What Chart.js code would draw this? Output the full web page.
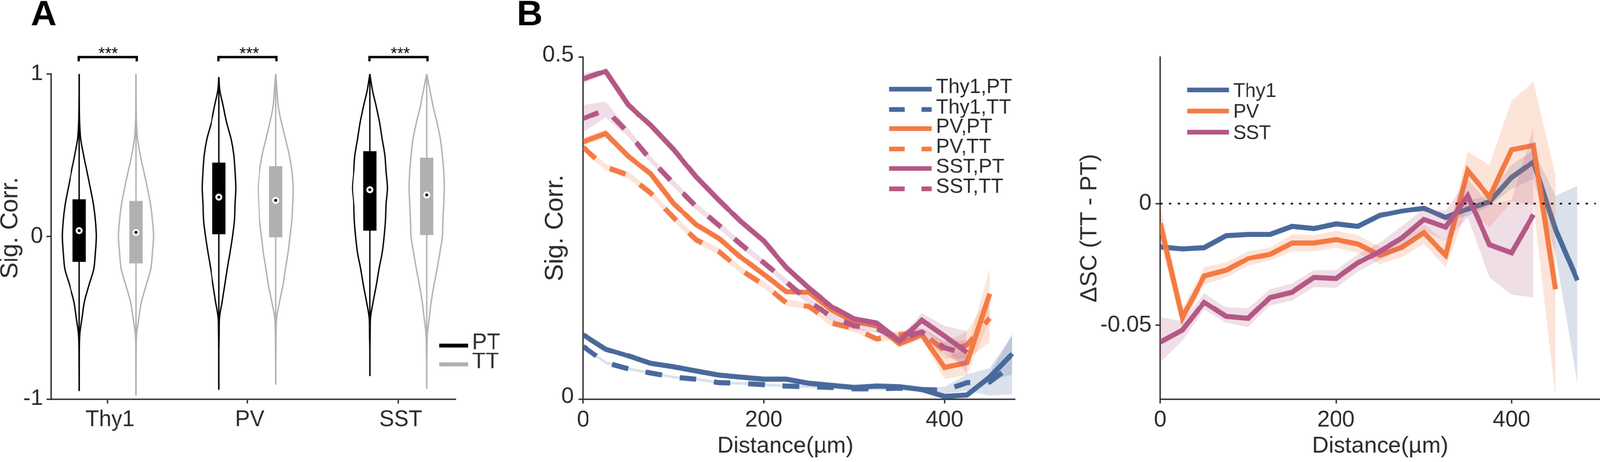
<!DOCTYPE html>
<html>
<head>
<meta charset="utf-8">
<style>
  html, body { margin: 0; padding: 0; background: #fff; overflow: hidden; }
  #page { position: relative; width: 4130px; height: 1182px; overflow: hidden; background: #fff; transform-origin: 0 0; }
  canvas { position: absolute; top: 0; }
</style>
<script src="https://cdn.jsdelivr.net/npm/chart.js@4"></script>
</head>
<body>
<div id="page">
  <canvas id="graphA" width="1290" height="1182" style="left:0"></canvas>
  <canvas id="graphB" width="1450" height="1182" style="left:1290px"></canvas>
  <canvas id="graphC" width="1390" height="1182" style="left:2740px"></canvas>
</div>
<script>
// panel A, violins
const groupNames = ['Thy1', 'PV', 'SST']
const groupPos = [1.45, 5.055, 8.95]
const violinLevels = [1, .9, .8, .7, .6, .5, .4, .3, .2, .1, 0, -.1, -.2, -.3, -.4, -.5, -.6, -.7, -.8, -.9, -1]

const thy1PtWidth = [0, 0, .004, .012, .04, .115, .2, .285, .365, .415, .44, .415, .375, .25, .135, .075, .017, .004, .002, 0, 0]
const thy1TtWidth = [0, 0, .004, .012, .04, .11, .2, .29, .37, .42, .45, .42, .38, .26, .14, .075, .017, .004, .002, 0, 0]
const pvPtWidth = [0, .025, .115, .2, .315, .385, .415, .435, .415, .4, .35, .285, .215, .15, .085, .017, .008, 0, 0, 0, 0]
const pvTtWidth = [0, .033, .067, .15, .25, .35, .415, .45, .435, .415, .365, .315, .25, .185, .1, .025, .008, .004, 0, 0, 0]
const sstPtWidth = [0, .067, .165, .25, .315, .385, .415, .45, .415, .4, .365, .315, .235, .165, .085, .017, .008, 0, 0, 0, 0]
const sstTtWidth = [0, .083, .165, .265, .35, .4, .435, .45, .435, .415, .4, .335, .265, .185, .115, .067, .017, .008, 0, 0, 0]

const whiskerTop = [1, 1, .98, 1, 1, 1]
const whiskerBottom = [-.95, -.977, -.942, -.912, -.859, -.937]
const boxTop = [.23, .22, .456, .432, .526, .486]
const boxBottom = [-.157, -.166, .014, -.005, .036, .009]
const medians = [.036, .025, .243, .223, .288, .256]

const legendA = ['PT', 'TT']
const bracketY = [1.079, 1.105, 1.105, 1.079]

// panel B and C, distance bins
const distance = [0, 25, 50, 75, 100, 125, 150, 175, 200, 225, 250, 275, 300, 325, 350, 375, 400, 425, 450, 475]

const thy1Pt = [.094, .073, .063, .052, .047, .041, .035, .032, .029, .029, .023, .020, .017, .019, .018, .014, .004, .006, .032, .066]
const thy1PtErr = [.002, .001, .001, .001, .001, .001, .001, .001, .001, .001, .001, .001, .001, .001, .001, .002, .002, .002, .006, .03]
const thy1Tt = [.077, .053, .044, .038, .032, .029, .024, .023, .021, .019, .018, .017, .015, .015, .016, .014, .013, .024, .025, .05]
const thy1TtErr = [.002, .002, .002, .002, .002, .002, .002, .002, .002, .002, .002, .002, .002, .002, .002, .002, .005, .012, .02, .043]
const pvPt = [.376, .388, .355, .329, .286, .255, .235, .207, .182, .157, .156, .130, .113, .107, .081, .094, .046, .053, .154]
const pvPtErr = [.006, .006, .003, .002, .002, .002, .002, .002, .002, .002, .002, .002, .002, .003, .006, .006, .017, .018, .038]
const pvTt = [.368, .339, .327, .301, .265, .233, .216, .188, .167, .141, .135, .111, .103, .088, .094, .098, .071, .079, .118]
const pvTtErr = [.005, .005, .005, .005, .005, .005, .005, .005, .005, .005, .005, .005, .005, .005, .006, .006, .012, .02, .035]
const sstPt = [.468, .479, .430, .400, .365, .325, .291, .259, .231, .192, .162, .135, .117, .111, .085, .115, .092, .068]
const sstPtErr = [.008, .003, .002, .002, .002, .002, .002, .002, .002, .002, .002, .002, .003, .004, .006, .01, .015, .031]
const sstTt = [.410, .423, .389, .350, .315, .282, .254, .226, .199, .171, .143, .120, .107, .103, .088, .098, .075, .066]
const sstTtErr = [.02, .012, .006, .005, .005, .005, .005, .005, .005, .005, .005, .005, .006, .006, .006, .006, .01, .02]

const thy1Diff = [-.0178, -.0186, -.0181, -.0132, -.0127, -.0127, -.0094, -.0103, -.0084, -.0094, -.0049, -.0031, -.0019, -.0058, -.0022, .0008, .0107, .0171, -.0106, -.0316]
const thy1Hi = [-.0168, -.0176, -.0171, -.0122, -.0117, -.0117, -.0084, -.0093, -.0074, -.0084, -.0039, -.0021, -.0009, -.0048, .001, .0035, .016, .022, .0032, .0073]
const thy1Lo = [-.0188, -.0196, -.0191, -.0142, -.0137, -.0137, -.0104, -.0113, -.0094, -.0104, -.0059, -.0041, -.0029, -.0068, -.0052, -.001, .006, .0101, -.0206, -.0743]
const pvDiff = [-.0082, -.0469, -.0298, -.0274, -.0226, -.0208, -.0162, -.0162, -.0148, -.0166, -.0212, -.018, -.012, -.0212, .0135, .0026, .0221, .0239, -.0352]
const pvHi = [-.0004, -.043, -.0262, -.0242, -.0196, -.0181, -.0127, -.013, -.0112, -.013, -.0178, -.0148, -.0088, -.0154, .0213, .0159, .0423, .0501, .0117]
const pvLo = [-.016, -.0502, -.0334, -.0304, -.0256, -.0234, -.0196, -.0196, -.0181, -.0202, -.025, -.022, -.0166, -.0262, -.0016, -.01, .0008, -.0004, -.0794]
const sstDiff = [-.0569, -.052, -.0406, -.0464, -.0472, -.0386, -.0364, -.0304, -.0308, -.0244, -.0196, -.0142, -.0066, -.0097, .0032, -.0169, -.0202, -.0046]
const sstHi = [-.0466, -.0484, -.0368, -.0427, -.043, -.0352, -.0328, -.0274, -.0274, -.0208, -.016, -.0094, -.0022, -.0028, .0099, -.0004, .0014, .0312]
const sstLo = [-.0653, -.0563, -.0436, -.049, -.0508, -.0418, -.0398, -.0343, -.0346, -.028, -.0232, -.0184, -.0112, -.0154, -.0058, -.0304, -.0374, -.0385]

const zeroLineX = [0, 496]
const zeroLineY = [0, 0]
const distTicks = [0, 200, 400]

const blue = '#48699b'
const orange = '#f47a43'
const plum = '#b45885'
const bandBlue = 'rgba(72, 105, 155, 0.2)'
const bandOrange = 'rgba(244, 122, 67, 0.2)'
const bandPlum = 'rgba(180, 88, 133, 0.2)'
const ink = '#2b2b2b'
const grayInk = '#b0b0b0'
const sans = '"Liberation Sans", Arial, sans-serif'

// the window can be narrower than 4130, fit the whole page into it
const fitScale = Math.min(1, window.innerWidth / 4130)
document.getElementById('page').style.transform = 'scale(' + fitScale + ')'

Chart.defaults.font.family = sans
Chart.defaults.color = ink
Chart.defaults.animation = false

const pts = (xs, ys) => ys.map((y, i) => ({ x: xs[i], y: y }))

function lineSet(ys, color, width, dash) {
  return {
    data: pts(distance, ys),
    borderColor: color,
    borderWidth: width,
    borderDash: dash || [],
    pointRadius: 0,
    fill: false,
  }
}

// two datasets, the first fills down to the second
function bandSet(hi, lo, color) {
  return [
    { data: pts(distance, hi), borderWidth: 0, pointRadius: 0, backgroundColor: color, fill: '+1' },
    { data: pts(distance, lo), borderWidth: 0, pointRadius: 0, fill: false },
  ]
}

function errBand(ys, err, color) {
  return bandSet(ys.map((y, i) => y + err[i]), ys.map((y, i) => y - err[i]), color)
}

// draws free text, legends and stars on top of the chart
const annotPlugin = {
  id: 'annot',
  afterDraw(chart, args, opts) {
    const ctx = chart.ctx
    ctx.save()
    ;(opts.lines || []).forEach(l => {
      ctx.beginPath()
      ctx.strokeStyle = l.color
      ctx.lineWidth = l.width
      ctx.setLineDash(l.dash || [])
      ctx.moveTo(l.x0, l.y)
      ctx.lineTo(l.x1, l.y)
      ctx.stroke()
    })
    ctx.setLineDash([])
    ;(opts.texts || []).forEach(t => {
      ctx.save()
      ctx.translate(t.x, t.y)
      if (t.rot) ctx.rotate(t.rot)
      ctx.font = t.font
      ctx.fillStyle = t.color || ink
      ctx.textAlign = t.align || 'left'
      ctx.textBaseline = 'middle'
      ctx.fillText(t.text, 0, 0)
      ctx.restore()
    })
    ctx.restore()
  }
}

function axisOpts(extra) {
  return Object.assign({
    border: { display: true, color: ink, width: 3.5 },
    grid: { drawOnChartArea: false, drawTicks: true, color: ink, lineWidth: 3.5, tickLength: 12 },
  }, extra)
}

function makeChart(id, plot, datasets, xAxis, yAxis, annot) {
  const el = document.getElementById(id)
  const w = el.width
  const h = el.height
  xAxis.afterFit = s => { s.height = h - plot.bottom }
  yAxis.afterFit = s => { s.width = plot.left }
  return new Chart(el, {
    type: 'line',
    data: { datasets: datasets },
    options: {
      responsive: false,
      devicePixelRatio: fitScale,
      layout: { autoPadding: false, padding: { top: plot.top, right: w - plot.right, left: 0, bottom: 0 } },
      elements: { line: { tension: 0 } },
      plugins: { legend: { display: false }, tooltip: { enabled: false }, annot: annot },
      scales: { x: xAxis, y: yAxis },
    },
    plugins: [annotPlugin],
  })
}

// panel A
function violinOutline(center, widths, top, bottom) {
  const right = [{ x: center, y: top }]
  violinLevels.forEach((y, i) => {
    if (y < top && y > bottom) right.push({ x: center + widths[i], y: y })
  })
  right.push({ x: center, y: bottom })
  const left = right.map(p => ({ x: 2 * center - p.x, y: p.y })).reverse()
  return right.concat(left)
}

const violinWidths = [thy1PtWidth, thy1TtWidth, pvPtWidth, pvTtWidth, sstPtWidth, sstTtWidth]
const violinCenter = i => groupPos[Math.floor(i / 2)] + (i % 2 === 0 ? -.725 : .74)

const setsA = []
const medianTop = []
const medianBack = []
violinWidths.forEach((w, i) => {
  const c = violinCenter(i)
  const col = i % 2 === 0 ? '#000' : grayInk
  medianTop.push({ x: c, y: medians[i] })
  medianBack.push({ x: c, y: medians[i] })
  setsA.push({ data: [{ x: c, y: boxBottom[i] }, { x: c, y: boxTop[i] }], borderColor: col, borderWidth: 34, pointRadius: 0, order: 2 })
  setsA.push({ data: [{ x: c, y: whiskerBottom[i] }, { x: c, y: whiskerTop[i] }], borderColor: col, borderWidth: 3.5, pointRadius: 0, order: 3 })
  setsA.push({ data: violinOutline(c, w, whiskerTop[i], whiskerBottom[i]), borderColor: col, borderWidth: 3.5, pointRadius: 0, tension: .3, order: 3 })
})
setsA.push({ data: medianTop, showLine: false, pointRadius: 3.8, pointBackgroundColor: '#000', pointBorderWidth: 0, order: 0 })
setsA.push({ data: medianBack, showLine: false, pointRadius: 9, pointBackgroundColor: '#fff', pointBorderWidth: 0, order: 1 })
groupPos.forEach(g => {
  setsA.push({
    data: pts([g - .735, g - .735, g + .76, g + .76], bracketY),
    borderColor: '#000', borderWidth: 6, pointRadius: 0, clip: false, order: 3,
  })
})

const starX = [279, 643, 1033]
makeChart('graphA', { left: 132, right: 1175, top: 191, bottom: 1029 }, setsA,
  axisOpts({
    type: 'linear', min: 0, max: 10.43,
    afterBuildTicks: s => { s.ticks = groupPos.map(v => ({ value: v })) },
    ticks: { font: { size: 57 }, padding: 8, labelOffset: 7, maxRotation: 0, autoSkip: false, callback: (v, i) => groupNames[i] },
  }),
  axisOpts({
    min: -1, max: 1,
    ticks: { stepSize: 1, font: { size: 57 }, padding: 9 },
  }),
  {
    lines: [
      { x0: 1133, x1: 1208, y: 891, color: '#000', width: 10 },
      { x0: 1133, x1: 1208, y: 940, color: grayInk, width: 10 },
    ],
    texts: [
      { text: 'A', x: 113, y: 40, font: 'bold 92px ' + sans, align: 'center', color: '#000' },
      { text: 'Sig. Corr.', x: 27, y: 588, rot: -Math.PI / 2, font: '63px ' + sans, align: 'center' },
      { text: legendA[0], x: 1218, y: 885, font: '57px ' + sans },
      { text: legendA[1], x: 1218, y: 934, font: '57px ' + sans },
    ].concat(starX.map(x => ({ text: '***', x: x, y: 139, font: '43px ' + sans, align: 'center', color: '#000' }))),
  })

// panel B, first dataset ends up on top
const setsB = [
  lineSet(sstPt, plum, 13),
  ...errBand(sstPt, sstPtErr, bandPlum),
  lineSet(sstTt, plum, 13, [43, 46]),
  ...errBand(sstTt, sstTtErr, bandPlum),
  lineSet(pvPt, orange, 13),
  ...errBand(pvPt, pvPtErr, bandOrange),
  lineSet(pvTt, orange, 13, [43, 46]),
  ...errBand(pvTt, pvTtErr, bandOrange),
  lineSet(thy1Pt, blue, 13),
  ...errBand(thy1Pt, thy1PtErr, bandBlue),
  lineSet(thy1Tt, blue, 13, [43, 46]),
  ...errBand(thy1Tt, thy1TtErr, bandBlue),
]

const legendB = ['Thy1,PT', 'Thy1,TT', 'PV,PT', 'PV,TT', 'SST,PT', 'SST,TT']
const legendBColors = [blue, blue, orange, orange, plum, plum]
const legendBY = [230, 282, 332, 384, 435, 487]

makeChart('graphB', { left: 215, right: 1330, top: 147, bottom: 1029 }, setsB,
  axisOpts({
    type: 'linear', min: 0, max: 478,
    afterBuildTicks: s => { s.ticks = distTicks.map(v => ({ value: v })) },
    ticks: { font: { size: 58 }, padding: 8, maxRotation: 0 },
  }),
  axisOpts({
    min: 0, max: .5,
    ticks: { stepSize: .5, font: { size: 58 }, padding: 12, labelOffset: -5, callback: v => String(v) },
    title: { display: true, text: 'Sig. Corr.', font: { size: 66, lineHeight: 1 }, padding: { top: 111 } },
  }),
  {
    lines: legendBY.map((y, i) => ({ x0: 1005, x1: 1115, y: y, color: legendBColors[i], width: 12, dash: i % 2 ? [40, 44] : [] })),
    texts: [
      { text: 'B', x: 77, y: 40, font: 'bold 92px ' + sans, align: 'center', color: '#000' },
      { text: 'Distance(µm)', x: 737, y: 1151, font: '59px ' + sans, align: 'center' },
    ].concat(legendB.map((t, i) => ({ text: t, x: 1126, y: legendBY[i] - 4, font: '52px ' + sans }))),
  })

// panel C
const setsC = [
  { data: pts(zeroLineX, zeroLineY), borderColor: '#000', borderWidth: 4, borderDash: [6, 16.4], pointRadius: 0, fill: false },
  lineSet(sstDiff, plum, 13),
  ...bandSet(sstHi, sstLo, bandPlum),
  lineSet(pvDiff, orange, 13),
  ...bandSet(pvHi, pvLo, bandOrange),
  lineSet(thy1Diff, blue, 13),
  ...bandSet(thy1Hi, thy1Lo, bandBlue),
]

const legendC = ['Thy1', 'PV', 'SST']
const legendCColors = [blue, orange, plum]
const legendCY = [232, 286, 341]

makeChart('graphC', { left: 255, right: 1390, top: 147, bottom: 1029 }, setsC,
  axisOpts({
    type: 'linear', min: 0, max: 501,
    afterBuildTicks: s => { s.ticks = distTicks.map(v => ({ value: v })) },
    ticks: { font: { size: 58 }, padding: 8, maxRotation: 0 },
    title: { display: true, text: 'Distance(µm)', font: { size: 59, lineHeight: 1 }, padding: { bottom: 1 } },
  }),
  axisOpts({
    min: -.0803, max: .0602,
    afterBuildTicks: s => { s.ticks = [{ value: -.05 }, { value: 0 }] },
    ticks: { font: { size: 58 }, padding: 11, callback: v => String(v) },
    title: { display: true, text: 'ΔSC (TT - PT)', font: { size: 60, lineHeight: 1 }, padding: { top: 43 } },
  }),
  {
    lines: legendCY.map((y, i) => ({ x0: 324, x1: 432, y: y, color: legendCColors[i], width: 12 })),
    texts: legendC.map((t, i) => ({ text: t, x: 443, y: legendCY[i] + 4, font: '50px ' + sans })),
  })
</script>
</body>
</html>
